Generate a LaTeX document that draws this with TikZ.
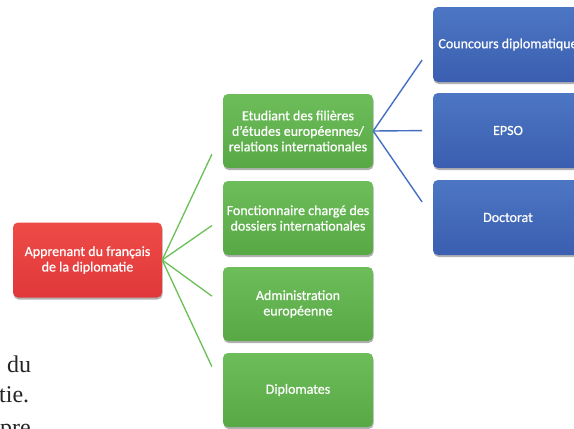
\documentclass[tikz,border=0pt]{standalone}
\usepackage{fontspec}
\setmainfont{Carlito}[FakeBold=0.8]
\newfontfamily\boxfont{Carlito}[FakeBold=0.7]
\newfontfamily\bodyserif{Liberation Serif}
\usetikzlibrary{calc,shadows}
\definecolor{redT}{HTML}{EE4B47}
\definecolor{redB}{HTML}{E0383A}
\definecolor{greenT}{HTML}{6DBE5B}
\definecolor{greenB}{HTML}{58A845}
\definecolor{blueT}{HTML}{4C76C3}
\definecolor{blueB}{HTML}{3B5EB0}
\definecolor{glink}{HTML}{6ABF55}
\definecolor{blink}{HTML}{4570C2}
\tikzset{
  boxbase/.style={rectangle, rounded corners=5pt, minimum width=150pt, minimum height=74pt,
    inner sep=2pt, text=white, align=center,
    font=\boxfont\fontsize{14}{15.5}\selectfont,
    drop shadow={shadow xshift=0.6pt, shadow yshift=-2pt, opacity=0.3, fill=black}},
  redbox/.style={boxbase, top color=redT, bottom color=redB, minimum width=149pt, minimum height=75pt},
  greenbox/.style={boxbase, top color=greenT, bottom color=greenB},
  bluebox/.style={boxbase, top color=blueT, bottom color=blueB, minimum height=75pt},
  glinkstyle/.style={draw=glink, line width=1.3pt},
  blinkstyle/.style={draw=blink, line width=1.4pt},
  bodytext/.style={inner sep=0pt, anchor=base west, font=\bodyserif\fontsize{24}{28}\selectfont, text=black!85}
}
\begin{document}
\begin{tikzpicture}[x=1pt, y=-1pt]
\useasboundingbox (0,0) rectangle (574,429);
\clip (0,0) rectangle (574,429);
\fill[white] (0,0) rectangle (574,429);

\node[bodytext] (t1) at (7,372) {du};
\node[bodytext] (t2) at (-1,402) {tie.};
\node[bodytext] (t3) at (0,435) {pre};

\node[redbox] (root) at (87.5,260) {Apprenant du français\\de la diplomatie};

\node[greenbox] (g1) at (298,131) {Etudiant des filières\\d’études européennes/\\relations internationales};
\node[greenbox] (g2) at (298,218) {Fonctionnaire chargé des\\dossiers internationales};
\node[greenbox] (g3) at (298,304) {Administration\\européenne};
\node[greenbox] (g4) at (298,390) {Diplomates};

\node[bluebox] (b1) at (508,44.5) {Councours diplomatique};
\node[bluebox] (b2) at (508,130.5) {EPSO};
\node[bluebox] (b3) at (508,217.5) {Doctorat};

\foreach \g in {g1,g2,g3,g4}
  \draw[glinkstyle] (root.east) -- ($(root.east)!0.82!(\g.west)$);
\foreach \b in {b1,b2,b3}
  \draw[blinkstyle] (g1.east) -- ($(g1.east)!0.82!(\b.west)$);
\end{tikzpicture}
\end{document}
